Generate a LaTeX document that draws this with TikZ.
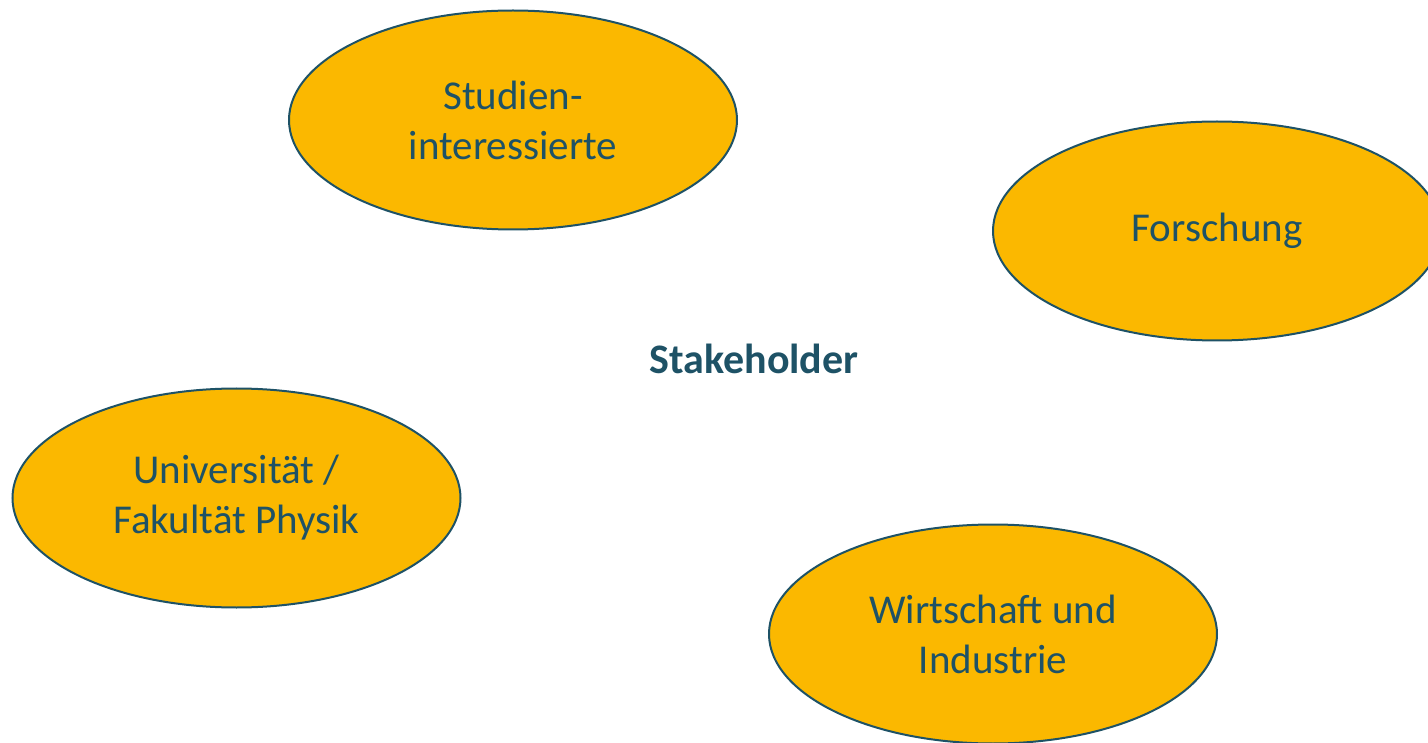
\documentclass[tikz,border=0pt]{standalone}
\usepackage{fontspec}
\setmainfont{Carlito}
\usetikzlibrary{shapes.geometric}
\definecolor{gold}{HTML}{FBB800}
\definecolor{teal}{HTML}{1E5266}
\begin{document}
\begin{tikzpicture}[x=1pt,y=-1pt,
  group/.style={ellipse, draw=teal, line width=2pt, fill=gold, text=teal,
    minimum width=448pt, minimum height=219pt, inner sep=0pt, align=center,
    font=\fontsize{41}{50}\selectfont},
  heading/.style={text=teal, inner sep=0pt, font=\fontsize{42}{50}\selectfont\bfseries}]
  \useasboundingbox (0,0) rectangle (1428,743);
  \clip (0,0) rectangle (1428,743);
  \node[group] (studien) at (513,120) {Studien-\\interessierte};
  \node[group] (forschung) at (1217,231) {Forschung};
  \node[group] (uni) at (236.5,498) {Universität /\\Fakultät Physik};
  \node[group] (wirtschaft) at (993,634) {Wirtschaft und\\Industrie};
  \node[heading] (stake) at (754,359) {Stakeholder};
\end{tikzpicture}
\end{document}
